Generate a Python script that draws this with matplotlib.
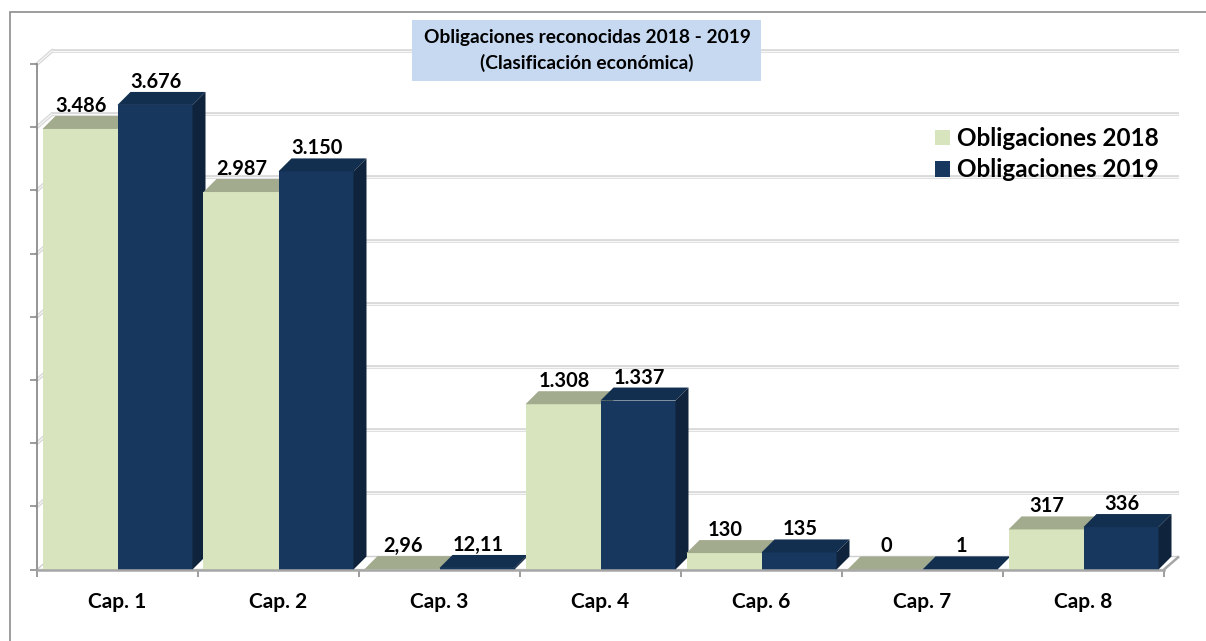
import matplotlib
matplotlib.use("Agg")
import matplotlib.pyplot as plt
from matplotlib.patches import Polygon, Rectangle, Patch
from matplotlib.transforms import ScaledTranslation

# Obligaciones reconocidas por capítulo (miles de euros)
categories = ["Cap. 1", "Cap. 2", "Cap. 3", "Cap. 4", "Cap. 6", "Cap. 7", "Cap. 8"]
oblig_2018 = [3486, 2987, 2.96, 1308, 130, 0, 317]
oblig_2019 = [3676, 3150, 12.11, 1337, 135, 1, 336]
series_names = ["Obligaciones 2018", "Obligaciones 2019"]
y_ticks = list(range(0, 4001, 500))

plt.rcParams["font.family"] = ["Lato", "DejaVu Sans"]
plt.rcParams["font.weight"] = "bold"

W, H = 1206, 641
fig = plt.figure(figsize=(W / 100, H / 100), dpi=100)
fig.patch.set_facecolor("white")

ax_left, ax_right, ax_bottom, ax_top = 37, 1164, 569.5, 64
ax = fig.add_axes([ax_left / W, (H - ax_bottom) / H,
                   (ax_right - ax_left) / W, (ax_bottom - ax_top) / H])
ax.set_xlim(0, len(categories))
ax.set_ylim(0, 4000)
ax.set_facecolor("none")

# data units per pixel, used for the pseudo-3D depth
ux = len(categories) / (ax_right - ax_left)
uy = 4000 / (ax_bottom - ax_top)
bar_dx, bar_dy = 13 * ux, 13 * uy
wall_dx, wall_dy = 15 * ux, 13 * uy


def fmt(v):
    if v != int(v):
        return f"{v:.2f}".replace(".", ",")
    return f"{int(v):,}".replace(",", ".")


# floor slab
ax.add_patch(Polygon([(0, 0), (7, 0), (7 + wall_dx, wall_dy), (wall_dx, wall_dy)],
                     closed=True, facecolor="white", edgecolor="#CFCFCF",
                     lw=1, zorder=1, clip_on=False))
ax.plot([7, 7 + wall_dx], [0, wall_dy], color="#A6A6A6", lw=1.8,
        zorder=1.5, clip_on=False, solid_capstyle="butt")

# back wall gridlines with the side-wall diagonals
for v in y_ticks[1:]:
    for lw, col in ((2.6, "#D6D6D6"), (0.9, "#F7F7F7")):
        ax.plot([wall_dx, 7 + wall_dx], [v + wall_dy, v + wall_dy],
                color=col, lw=lw, zorder=0.5, clip_on=False,
                solid_capstyle="butt")
        ax.plot([0, wall_dx], [v, v + wall_dy], color=col, lw=lw,
                zorder=0.5, clip_on=False)

# bars
w = 75 * ux
x_idx = list(range(len(categories)))
colors = {
    "front": ["#D7E4BD", "#17375E"],
    "top": ["#A3AB8E", "#132F50"],
    "side": ["#8E977A", "#0F233C"],
}
for k, vals in enumerate([oblig_2018, oblig_2019]):
    xs = [i + 0.5 + (k - 0.5) * w for i in x_idx]
    bars = ax.bar(xs, vals, width=w, color=colors["front"][k],
                  edgecolor="none", label=series_names[k])
    for i, (bar, v) in enumerate(zip(bars, vals)):
        z = 10 + 4 * i + 2 * k
        bar.set_zorder(z)
        x0 = bar.get_x()
        x1 = x0 + bar.get_width()
        ax.add_patch(Polygon([(x0, v), (x1, v), (x1 + bar_dx, v + bar_dy),
                              (x0 + bar_dx, v + bar_dy)], closed=True,
                             facecolor=colors["top"][k], edgecolor="none",
                             zorder=z + 0.5, clip_on=False))
        ax.add_patch(Polygon([(x1, 0), (x1, v), (x1 + bar_dx, v + bar_dy),
                              (x1 + bar_dx, bar_dy)], closed=True,
                             facecolor=colors["side"][k], edgecolor="none",
                             zorder=z + 0.5 - (0.6 if k == 0 else 0),
                             clip_on=False))
        lbl_tr = ax.transData + ScaledTranslation(1 / 100, 17 / 100,
                                                  fig.dpi_scale_trans)
        ax.text(x0 + w / 2, v, fmt(v), transform=lbl_tr, ha="center",
                va="baseline", fontsize=14.4, fontweight="bold",
                color="black", zorder=100, clip_on=False)

# axes styling
for s in ("top", "right"):
    ax.spines[s].set_visible(False)
ax.spines["left"].set_color("#8C8C8C")
ax.spines["left"].set_linewidth(1.3)
ax.spines["bottom"].set_color("#A6A6A6")
ax.spines["bottom"].set_linewidth(1.8)
ax.spines["bottom"].set_zorder(60)

ax.set_yticks(y_ticks)
ax.tick_params(axis="y", which="major", length=5, width=1.2, color="#8C8C8C",
               labelleft=False)
ax.set_xticks(range(len(categories) + 1))
ax.set_xticklabels([])
ax.set_xticks([i + 0.5 for i in x_idx], minor=True)
ax.set_xticklabels(categories, minor=True, fontsize=15, fontweight="bold")
ax.tick_params(axis="x", which="major", length=5, width=1.2, color="#8C8C8C")
ax.tick_params(axis="x", which="minor", length=0, pad=16)

# title box
fig.patches.append(Rectangle((412 / W, (H - 81) / H), (761 - 412) / W, 61 / H,
                             transform=fig.transFigure, facecolor="#C6D9F1",
                             edgecolor="none", zorder=5))
fig.text(587 / W, (H - 38) / H, "Obligaciones reconocidas 2018 - 2019",
         ha="center", va="center", fontsize=13.8, fontweight="bold", zorder=6)
fig.text(587 / W, (H - 63) / H, "(Clasificación económica)",
         ha="center", va="center", fontsize=13.8, fontweight="bold", zorder=6)

# legend
handles = [Patch(facecolor=colors["front"][k], edgecolor="none")
           for k in range(2)]
fig.legend(handles, series_names, loc="upper left",
           bbox_to_anchor=(935 / W, (H - 127) / H),
           bbox_transform=fig.transFigure, frameon=False,
           prop=dict(family=["Lato", "DejaVu Sans"], weight="bold", size=17.5),
           handlelength=0.62, handleheight=0.62, handletextpad=0.3,
           labelspacing=0.34, borderpad=0, borderaxespad=0)

# chart frame
fig.patches.append(Rectangle((9.5 / W, -0.1), 1.2, (H - 12) / H + 0.1,
                             transform=fig.transFigure, facecolor="none",
                             edgecolor="#8C8C8C", lw=1.2, zorder=0))

fig.savefig("out.png", dpi=100)
